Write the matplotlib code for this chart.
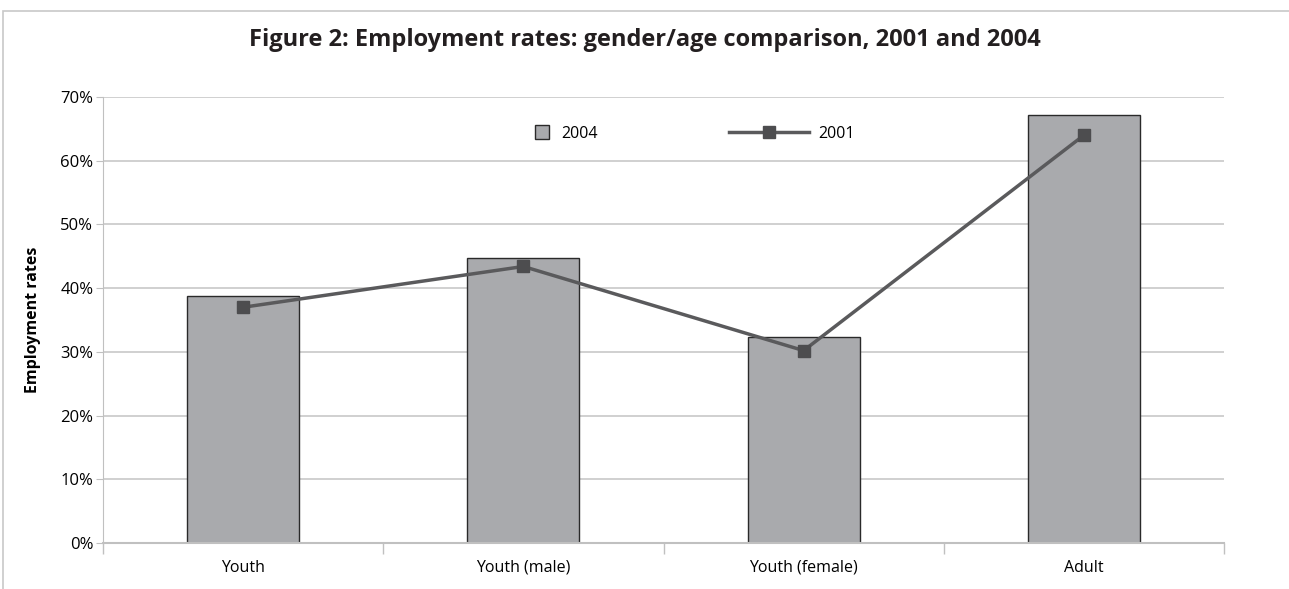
import matplotlib
matplotlib.use("Agg")
import matplotlib.pyplot as plt
from matplotlib.ticker import FuncFormatter, FixedLocator
from matplotlib.patches import Rectangle
from matplotlib.legend_handler import HandlerPatch

categories = ["Youth", "Youth (male)", "Youth (female)", "Adult"]
rates_2004 = [38.8, 44.7, 32.3, 67.2]
rates_2001 = [37.0, 43.4, 30.2, 64.0]
yticks = [0, 10, 20, 30, 40, 50, 60, 70]

plt.rcParams['font.family'] = ['Open Sans', 'DejaVu Sans']

fig = plt.figure(figsize=(12.89, 5.89), dpi=100)
ax = fig.add_axes([103/1289, 1 - 543/589, (1224-103)/1289, (543-97)/589])

# outer frame
fig.patches.append(Rectangle((3/1289, -0.01), 1.1, 1 - 11/589 + 0.01, transform=fig.transFigure,
                             fill=False, edgecolor="#c8c8c8", linewidth=1.2))

x = list(range(len(categories)))
bars = ax.bar(x, rates_2004, width=0.4, color="#a9aaad", edgecolor="#2a2a2a", linewidth=1.0,
              label="2004", zorder=2)
line, = ax.plot(x, rates_2001, color="#5a5a5c", linewidth=2.5, marker="s", markersize=9,
                markerfacecolor="#4d4d4f", markeredgecolor="#4d4d4f", label="2001", zorder=3)

ax.set_xlim(-0.5, len(categories) - 0.5)
ax.set_ylim(0, 70)
ax.set_yticks(yticks)
ax.yaxis.set_major_formatter(FuncFormatter(lambda v, p: f"{int(v)}%"))
ax.set_xticks(x)
ax.set_xticklabels(categories, fontsize=11.5)
ax.tick_params(axis='x', length=0, pad=12)
ax.xaxis.set_minor_locator(FixedLocator([-0.5, 0.5, 1.5, 2.5, 3.5]))
ax.tick_params(axis='x', which='minor', length=8, color="#c0c0c0", width=1)
ax.tick_params(axis='y', length=5, color="#c0c0c0", labelsize=12, pad=2)
ax.grid(axis='y', color="#c8c8c8", linewidth=1.2, zorder=0)
ax.set_axisbelow(True)
for s in ["top", "right"]:
    ax.spines[s].set_visible(False)
ax.spines["left"].set_color("#c0c0c0")
ax.spines["bottom"].set_color("#c0c0c0")
ax.spines["bottom"].set_linewidth(1.5)

ax.set_ylabel("Employment rates", fontsize=11.5, fontweight="bold", labelpad=14)

fig.text(645/1289, 1 - 40/589, "Figure 2: Employment rates: gender/age comparison, 2001 and 2004",
         ha="center", va="center", fontsize=17, fontweight="bold", color="#231f20")


def small_square(legend, orig_handle, xdescent, ydescent, width, height, fontsize):
    s = 10
    return Rectangle((-xdescent + width - s - 2, -ydescent + (height - s) / 2), s, s)


bar_handle = bars.patches[0]
leg = ax.legend(handles=[bar_handle, line], labels=["2004", "2001"], loc="upper center",
                bbox_to_anchor=(0.5, 0.968), ncol=2, frameon=False, fontsize=11.5,
                columnspacing=8.2, handlelength=5, handletextpad=0.6,
                handler_map={type(bar_handle): HandlerPatch(patch_func=small_square)})

fig.savefig("out.png", dpi=100)
